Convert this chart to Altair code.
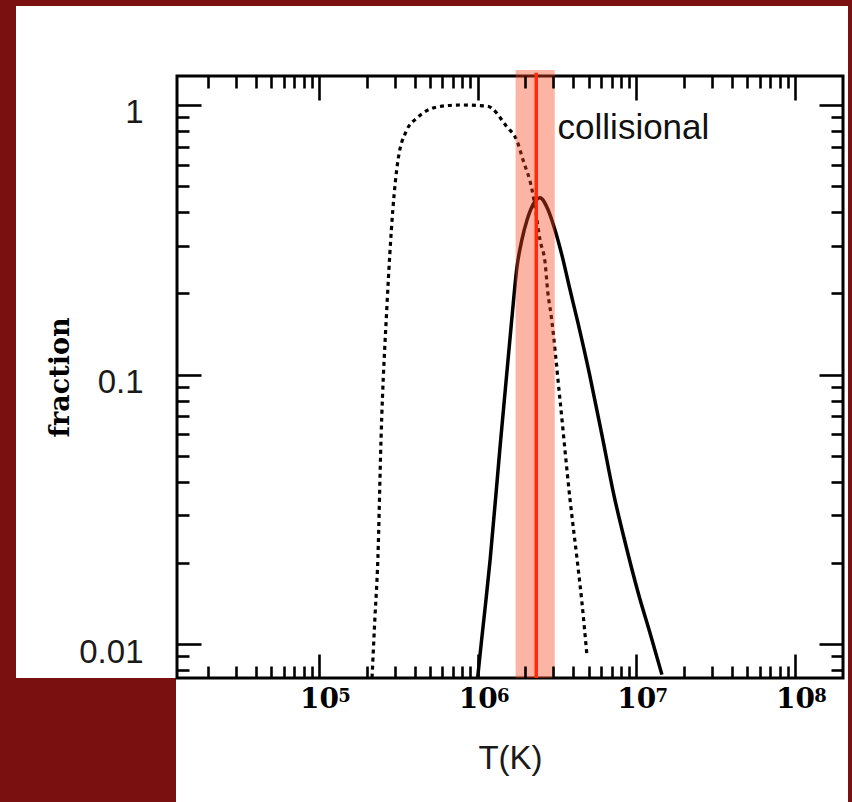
import altair as alt
import pandas as pd

# Plot area size (pixels) and page padding around it
W, H = 666, 602
PAD = {"left": 177, "top": 76, "right": 9, "bottom": 124}

# Axis ranges
X_DOMAIN = [12740, 2.007e8]
Y_DOMAIN = [0.00748, 1.281]

# Ion fraction curves, temperature in K
dotted_T = [2.16e5, 2.25e5, 2.35e5, 2.46e5, 2.68e5, 2.92e5, 3.15e5, 3.58e5, 4.15e5,
            5.55e5, 7.7e5, 1.15e6, 1.53e6, 1.77e6, 1.93e6, 2.20e6, 2.30e6, 2.47e6,
            2.66e6, 2.77e6, 2.90e6, 3.30e6, 3.82e6, 4.23e6, 4.54e6, 4.89e6]
dotted_f = [0.0075, 0.0124, 0.0207, 0.0574, 0.179, 0.408, 0.626, 0.808, 0.895,
            0.983, 1.0, 0.99, 0.829, 0.736, 0.626, 0.485, 0.419, 0.316,
            0.260, 0.201, 0.167, 0.081, 0.0344, 0.0207, 0.0143, 0.0090]

solid_T = [1.0e6, 1.06e6, 1.13e6, 1.20e6, 1.38e6, 1.64e6, 1.77e6, 1.90e6, 2.05e6,
           2.23e6, 2.47e6, 2.78e6, 3.10e6, 3.43e6, 3.80e6, 4.27e6, 5.08e6, 6.10e6,
           7.20e6, 8.55e6, 1.03e7, 1.23e7, 1.45e7]
solid_f = [0.0075, 0.0104, 0.0147, 0.0207, 0.0528, 0.160, 0.251, 0.316, 0.375,
           0.426, 0.453, 0.408, 0.338, 0.271, 0.209, 0.157, 0.0996, 0.0588,
           0.036, 0.0235, 0.0154, 0.0108, 0.0077]

# Collisional equilibrium temperature and its range
band_T = [1.735e6, 3.06e6]
band_f = [0.00748, 1.349]
peak_T = [2.34e6]
peak_f = [0.00748, 1.318]
label_T = [3.19e6]
label_f = [0.748]
label_text = ["collisional"]

# Tick values
x_major = [1e5, 1e6, 1e7, 1e8]
x_minor = [k * 10 ** d for d in range(4, 8) for k in range(2, 10)]
y_major = [0.01, 0.1, 1]
y_minor = [0.008, 0.009] + [k / 100 for k in range(2, 10)] + [k / 10 for k in range(2, 10)]

xs = alt.Scale(type="log", domain=X_DOMAIN, nice=False)
ys = alt.Scale(type="log", domain=Y_DOMAIN, nice=False)

dotted = pd.DataFrame({"T": dotted_T, "f": dotted_f})
solid = pd.DataFrame({"T": solid_T, "f": solid_f})
band = pd.DataFrame({"lo": [band_T[0]], "hi": [band_T[1]], "b": [band_f[0]], "t": [band_f[1]]})
peak = pd.DataFrame({"T": peak_T, "b": [peak_f[0]], "t": [peak_f[1]]})
lab = pd.DataFrame({"T": label_T, "f": label_f, "s": label_text})
decades = pd.DataFrame({"T": x_major})
one = pd.DataFrame({"k": [0]})

TICK = dict(grid=False, zindex=1, labels=False, domain=False, title=None,
            tickColor="black", tickWidth=2.6)


def tick_axis(orient, values, size):
    return alt.Axis(orient=orient, values=values, offset=-size, tickSize=size, **TICK)


# Bottom axis: mantissa "10" under each decade, with the axis title
x_label_axis = alt.Axis(
    orient="bottom", values=x_major, grid=False, zindex=1, ticks=False, domain=False,
    labelExpr="'10'", labelFont="DejaVu Serif", labelFontWeight="bold", labelFontSize=28,
    labelColor="black", labelBaseline="alphabetic", labelPadding=29, labelOffset=0,
    labelFlush=False, labelOverlap=False,
    title="T(K)", titleFont="Liberation Sans", titleFontSize=33, titleFontWeight="normal",
    titleColor="#1a1a1a", titleBaseline="alphabetic", titleY=90,
)
# Exponents, set as superscripts next to the mantissas
x_exp_axis = alt.Axis(
    orient="bottom", values=x_major, grid=False, zindex=1, ticks=False, domain=False,
    labelExpr="'' + round(log(datum.value)/LN10)", labelFont="DejaVu Serif",
    labelFontWeight="bold", labelFontSize=18, labelColor="black",
    labelBaseline="alphabetic", labelPadding=23, labelOffset=25,
    labelFlush=False, labelOverlap=False, title=None,
)
y_label_axis = alt.Axis(
    orient="left", values=y_major, format="~g", grid=False, zindex=1, ticks=False,
    domain=False, labelFont="Liberation Sans", labelFontSize=33, labelColor="#1a1a1a",
    labelBaseline="alphabetic", labelOffset=18, labelPadding=34, labelOverlap=False,
    labelFlush=False,
    title="fraction", titleFont="DejaVu Serif", titleFontWeight="bold",
    titleFontSize=27, titleColor="black", titleAngle=270, titleAlign="center",
    titleBaseline="middle", titleX=-117, titleY=H / 2,
)

# Page background pieces and plot frame
white_top = alt.Chart(one).mark_rect(color="white").encode(
    x=alt.value(-161), x2=alt.value(W + 5), y=alt.value(-70), y2=alt.value(H))
white_bottom = alt.Chart(one).mark_rect(color="white").encode(
    x=alt.value(-1), x2=alt.value(W + 5), y=alt.value(H - 1), y2=alt.value(H + PAD["bottom"]))
frame = alt.Chart(one).mark_rect(filled=False, stroke="black", strokeWidth=3).encode(
    x=alt.value(0), x2=alt.value(W), y=alt.value(0), y2=alt.value(H))

exponents = alt.Chart(decades).mark_point(opacity=0).encode(
    x=alt.X("T:Q", scale=xs, axis=x_exp_axis),
    y=alt.value(0),
)

dotted_line = alt.Chart(dotted).mark_line(
    color="black", strokeWidth=3.2, strokeDash=[4, 4], interpolate="monotone"
).encode(
    x=alt.X("T:Q", scale=xs, axis=x_label_axis),
    y=alt.Y("f:Q", scale=ys, axis=y_label_axis),
    order="T:Q",
)

solid_line = alt.Chart(solid).mark_line(
    color="black", strokeWidth=3.5, interpolate="monotone"
).encode(
    x=alt.X("T:Q", scale=xs, axis=tick_axis("bottom", x_minor, 12)),
    y=alt.Y("f:Q", scale=ys, axis=tick_axis("left", y_minor, 12)),
    order="T:Q",
)

band_rect = alt.Chart(band).mark_rect(color="#f7431e", opacity=0.4).encode(
    x=alt.X("lo:Q", scale=xs, axis=tick_axis("bottom", x_major, 24)),
    x2="hi:Q",
    y=alt.Y("b:Q", scale=ys, axis=tick_axis("left", y_major, 24)),
    y2="t:Q",
)

peak_rule = alt.Chart(peak).mark_rule(color="#ff2a0a", strokeWidth=3.5).encode(
    x=alt.X("T:Q", scale=xs, axis=tick_axis("top", x_minor, 12)),
    y=alt.Y("b:Q", scale=ys, axis=tick_axis("right", y_minor, 12)),
    y2="t:Q",
)

label = alt.Chart(lab).mark_text(
    align="left", baseline="alphabetic", font="Liberation Sans", fontSize=35, color="#111111"
).encode(
    x=alt.X("T:Q", scale=xs, axis=tick_axis("top", x_major, 24)),
    y=alt.Y("f:Q", scale=ys, axis=tick_axis("right", y_major, 24)),
    text="s:N",
)

chart = alt.layer(
    white_top, white_bottom, frame, exponents, dotted_line, solid_line, band_rect,
    peak_rule, label
).resolve_axis(
    x="independent", y="independent"
).properties(
    width=W, height=H, padding=PAD, autosize=alt.AutoSizeParams(type="none"),
    background="#7a1010",
).configure_view(strokeWidth=0)

chart.save("out.html", embed_options={"renderer": "svg", "actions": False})
